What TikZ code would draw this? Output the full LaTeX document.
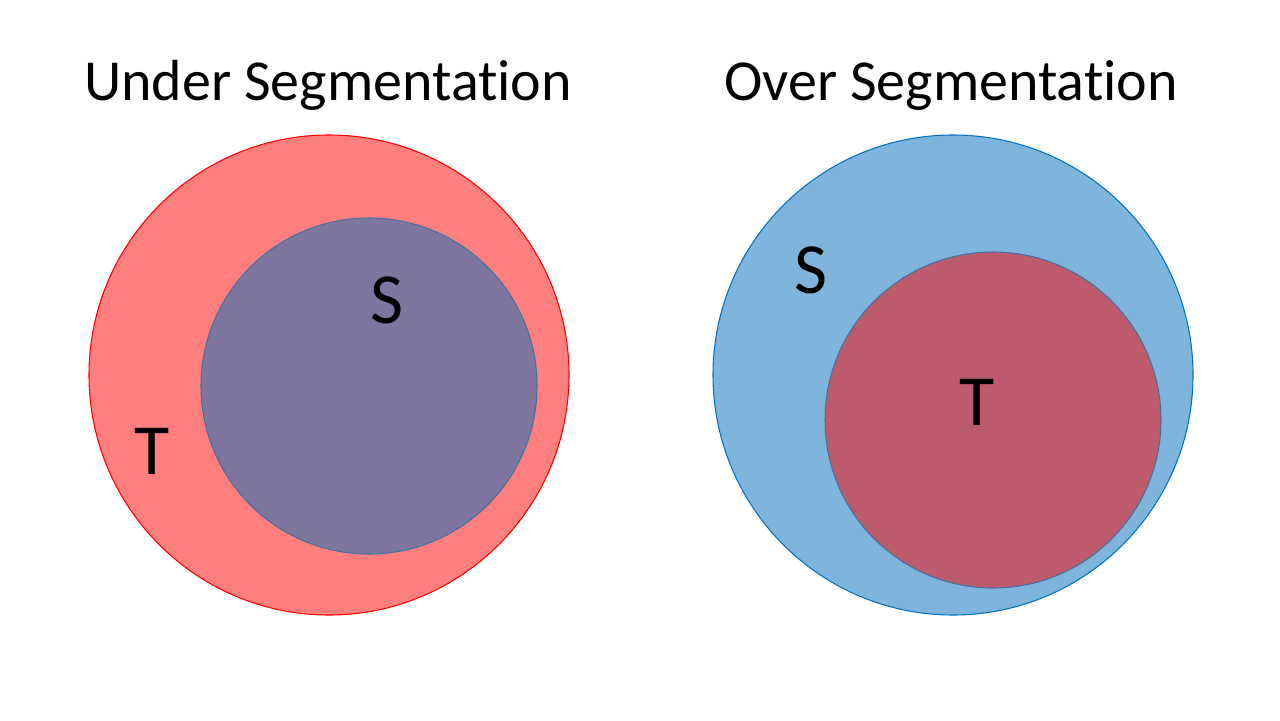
\documentclass[tikz,border=0pt]{standalone}
\usepackage{fontspec}
\setmainfont{Carlito}[Ligatures=NoCommon]
\usepackage{tikz}
\usetikzlibrary{positioning}
\definecolor{tfill}{RGB}{255,127,127}
\definecolor{tedge}{RGB}{255,0,0}
\definecolor{sfill}{RGB}{127,181,221}
\definecolor{sedge}{RGB}{0,112,192}
\definecolor{mixpurple}{RGB}{127,118,159}
\definecolor{mixred}{RGB}{189,90,108}
\definecolor{inedge}{RGB}{65,113,156}

\begin{document}
\begin{tikzpicture}[x=0.02cm, y=-0.02cm,
    title/.style={font=\fontsize{33}{40}\selectfont, anchor=base},
    setlabel/.style={font=\fontsize{41}{48}\selectfont, inner sep=0pt}]
  \useasboundingbox (0,0) rectangle (1280,720);
  % Under segmentation
  \node[title] (undertitle) at (328,100) {Under Segmentation};
  \filldraw[fill=tfill, draw=tedge, line width=0.6pt] (329,375) circle (240);
  \filldraw[fill=mixpurple, draw=inedge, line width=0.6pt] (369,386) circle (168);
  \node[setlabel] (underS) at (387,300) {S};
  \node[setlabel] (underT) at (152,451) {T};
  % Over segmentation
  \node[title] (overtitle) at (951,100) {Over Segmentation};
  \filldraw[fill=sfill, draw=sedge, line width=0.6pt] (953,375) circle (240);
  \filldraw[fill=mixred, draw=inedge, line width=0.6pt] (993,420) circle (168);
  \node[setlabel] (overS) at (811,270) {S};
  \node[setlabel] (overT) at (977,402) {T};
\end{tikzpicture}
\end{document}
